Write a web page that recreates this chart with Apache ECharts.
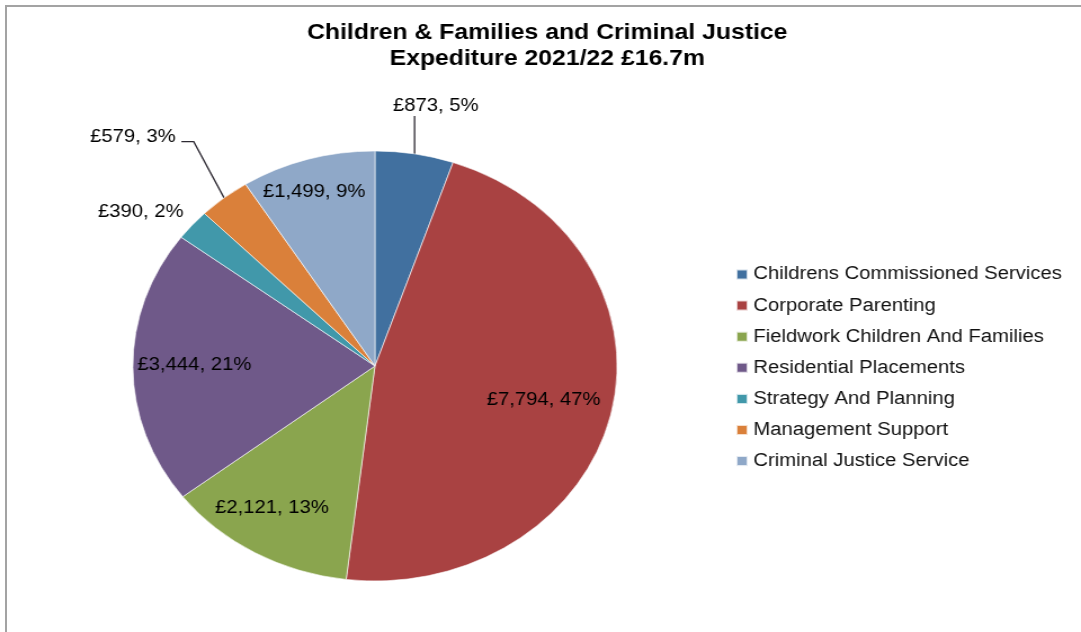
<!DOCTYPE html>
<html>
<head>
<meta charset="utf-8">
<script src="https://cdn.jsdelivr.net/npm/echarts@6/dist/echarts.min.js"></script>
<style>
  html, body { margin: 0; padding: 0; background: #fff; }
  #page { position: relative; width: 1081px; height: 632px; overflow: hidden; background: #fff; }
  #frame { position: absolute; left: 5px; top: 5px; width: 1100px; height: 700px;
           border-top: 2px solid #a3a3a3; border-left: 2px solid #a3a3a3; }
  /* the chart is laid out at 960px and widened to the full page width */
  #chart { position: absolute; left: 0; top: 0; width: 960px; height: 632px;
           transform: scaleX(1.12604); transform-origin: 0 0; }
</style>
</head>
<body>
<div id="page">
  <div id="frame"></div>
  <div id="chart"></div>
</div>
<script>
// Spend by service area, £000s
const categories = [
  'Childrens Commissioned Services',
  'Corporate Parenting',
  'Fieldwork Children And Families',
  'Residential Placements',
  'Strategy And Planning',
  'Management Support',
  'Criminal Justice Service'
];
const values = [873, 7794, 2121, 3444, 390, 579, 1499];
const titleLines = ['Children & Families and Criminal Justice', 'Expediture 2021/22 £16.7m'];

const colors = ['#41709F', '#A94242', '#8AA54E', '#6F5989', '#4198AA', '#DA803A', '#8FA8C8'];

// Pie geometry (chart pixels before widening)
const CX = 333, CY = 366, R = 215;

// Where each slice label sits: radius as a fraction of R, angle nudge in degrees,
// and which kind of leader line it gets
const labelPlacement = [
  { k: 1.237, shift: 2.3, outside: true, guide: 'up' },
  { k: 0.714, shift: 0 },
  { k: 0.786, shift: 3.1 },
  { k: 0.746, shift: 0.6 },
  { k: 1.204, shift: -4.5, outside: true },
  { k: 1.462, shift: -4.6, outside: true, guide: 'elbow' },
  { k: 0.847, shift: -1.1 }
];

const total = values.reduce((a, b) => a + b, 0);
const midAngles = [];
let run = 0;
values.forEach(v => { midAngles.push((run + v / 2) / total * 360); run += v; });

const chart = echarts.init(document.getElementById('chart'), null, { renderer: 'canvas' });

const fontFamily = '"Liberation Sans", Arial, sans-serif';

chart.setOption({
  animation: false,
  backgroundColor: 'transparent',
  color: colors,
  title: {
    text: titleLines.join('\n'),
    left: 486,
    textAlign: 'center',
    top: 20,
    padding: 0,
    textStyle: {
      fontFamily: fontFamily,
      fontSize: 22,
      fontWeight: 'bold',
      color: '#000',
      lineHeight: 26
    }
  },
  legend: {
    orient: 'vertical',
    left: 648,
    top: 259.5,
    itemWidth: 10,
    itemHeight: 10,
    itemGap: 11.1,
    icon: 'rect',
    selectedMode: false,
    data: categories,
    textStyle: {
      fontFamily: fontFamily,
      fontSize: 18,
      color: '#111',
      lineHeight: 20
    }
  },
  series: [{
    type: 'pie',
    center: [CX, CY],
    radius: [0, R],
    startAngle: 90,
    clockwise: true,
    avoidLabelOverlap: false,
    percentPrecision: 0,
    silent: true,
    itemStyle: { borderColor: 'rgba(255,255,255,0.75)', borderWidth: 0.8 },
    label: {
      position: 'inside',
      fontFamily: fontFamily,
      fontSize: 18,
      color: '#000',
      formatter: p => '£' + p.value.toLocaleString('en-GB') + ', ' + p.percent + '%'
    },
    labelLine: {
      show: false,
      lineStyle: { color: '#2e2a33', width: 1.3 }
    },
    labelLayout: function (params) {
      const i = params.dataIndex;
      const pl = labelPlacement[i];
      const a = (midAngles[i] + pl.shift) * Math.PI / 180;
      const x = CX + R * pl.k * Math.sin(a);
      const y = CY - R * pl.k * Math.cos(a);
      const out = { x: x, y: y, align: 'center', verticalAlign: 'middle' };
      const pts = params.labelLinePoints;
      if (pl.guide && pts) {
        const p0 = pts[0];
        const w = params.labelRect.width;
        if (pl.guide === 'up') {
          out.labelLinePoints = [[p0[0], p0[1]], [p0[0], y + 10.5], [p0[0], y + 10.5]];
        } else {
          const right = x + w / 2;
          out.labelLinePoints = [[p0[0], p0[1]], [right + 16, y + 5], [right + 5, y + 5]];
        }
      }
      return out;
    },
    data: values.map((v, i) => {
      const pl = labelPlacement[i];
      const item = { name: categories[i], value: v };
      if (pl.outside) {
        item.label = { position: 'outside' };
        item.labelLine = { show: !!pl.guide, length: 20, length2: 10 };
      }
      return item;
    })
  }]
});
</script>
</body>
</html>
